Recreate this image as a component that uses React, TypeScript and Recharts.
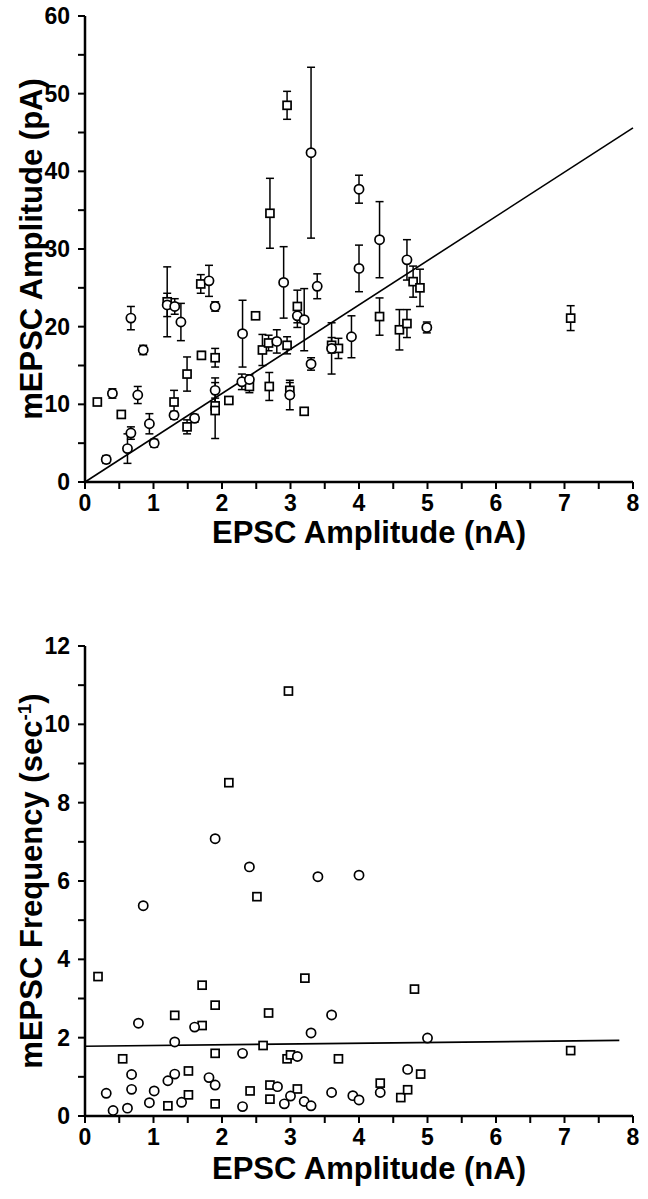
import { ScatterChart, Scatter, XAxis, YAxis, ErrorBar, ReferenceLine, Label } from "recharts";

// EPSC amplitude axis (nA), shared by both panels
const xTicks = [0, 0.5, 1, 1.5, 2, 2.5, 3, 3.5, 4, 4.5, 5, 5.5, 6, 6.5, 7, 7.5, 8];
const ampTicks = [0, 5, 10, 15, 20, 25, 30, 35, 40, 45, 50, 55, 60];
const freqTicks = [0, 1, 2, 3, 4, 5, 6, 7, 8, 9, 10, 11, 12];

// top panel: [EPSC nA, mEPSC pA, sem]
const ampCircles: [number, number, number][] = [
  [0.31, 2.9, 0.5], [0.4, 11.4, 0.6], [0.62, 4.3, 1.9], [0.67, 6.3, 0.8], [0.67, 21.1, 1.5],
  [0.77, 11.2, 1.1], [0.85, 17.0, 0.6], [0.94, 7.5, 1.3], [1.01, 5.0, 0.5], [1.2, 22.8, 1.5],
  [1.31, 22.6, 1.0], [1.4, 20.6, 2.4], [1.3, 8.6, 0.5], [1.6, 8.2, 0.5], [1.81, 25.9, 2.0],
  [1.9, 22.6, 0.6], [1.9, 11.8, 1.6], [2.3, 19.1, 4.3], [2.29, 12.9, 1.0], [2.4, 13.2, 0.6],
  [2.8, 18.1, 1.5], [2.9, 25.7, 4.6], [2.99, 11.2, 1.9], [3.1, 21.4, 1.5], [3.2, 20.9, 4.0],
  [3.3, 15.2, 0.8], [3.3, 42.4, 11.0], [3.39, 25.2, 1.6], [3.6, 17.2, 3.3], [3.89, 18.7, 2.7],
  [4.0, 27.5, 3.0], [4.0, 37.7, 1.8], [4.3, 31.2, 4.9], [4.7, 28.6, 2.6], [4.99, 19.9, 0.7],
];
const ampSquares: [number, number, number][] = [
  [0.18, 10.3, 0], [0.53, 8.7, 0], [1.2, 23.2, 4.5], [1.3, 10.3, 1.5], [1.49, 13.9, 2.2],
  [1.49, 7.1, 0.9], [1.69, 25.5, 1.2], [1.7, 16.3, 0.5], [1.9, 16.0, 1.2], [1.9, 9.8, 1.0],
  [1.9, 9.2, 3.6], [2.1, 10.5, 0.4], [2.4, 12.3, 0.8], [2.49, 21.4, 0], [2.59, 17.0, 2.0],
  [2.68, 17.9, 1.0], [2.69, 12.3, 1.8], [2.7, 34.6, 4.5], [2.95, 17.6, 1.1], [2.95, 48.5, 1.8],
  [2.99, 11.8, 1.0], [3.1, 22.6, 2.1], [3.2, 9.1, 0], [3.6, 17.6, 1.0], [3.7, 17.2, 1.3],
  [4.3, 21.3, 2.4], [4.59, 19.6, 2.6], [4.7, 20.4, 1.8], [4.79, 25.8, 2.0], [4.89, 25.0, 2.4],
  [7.09, 21.1, 1.6],
];
const ampFit = [{ x: 0, y: 0 }, { x: 8, y: 45.6 }];

// bottom panel: [EPSC nA, mEPSC frequency /s]
const freqCircles: [number, number][] = [
  [0.31, 0.58], [0.41, 0.14], [0.62, 0.2], [0.68, 1.06], [0.68, 0.68], [0.78, 2.37], [0.85, 5.37],
  [0.94, 0.34], [1.01, 0.64], [1.21, 0.9], [1.31, 1.07], [1.31, 1.89], [1.41, 0.35], [1.6, 2.27],
  [1.81, 0.98], [1.9, 0.79], [1.9, 7.08], [2.3, 1.6], [2.3, 0.24], [2.4, 6.36], [2.81, 0.75],
  [2.91, 0.31], [3.0, 0.51], [3.1, 1.52], [3.2, 0.37], [3.3, 0.26], [3.3, 2.12], [3.4, 6.11],
  [3.6, 0.6], [3.6, 2.58], [3.91, 0.52], [4.0, 0.41], [4.0, 6.15], [4.31, 0.6], [4.71, 1.19],
  [5.0, 1.99],
];
const freqSquares: [number, number][] = [
  [0.19, 3.56], [0.55, 1.46], [1.21, 0.26], [1.31, 2.57], [1.51, 1.15], [1.51, 0.54], [1.71, 3.34],
  [1.71, 2.31], [1.9, 2.83], [1.9, 1.6], [1.9, 0.31], [2.1, 8.51], [2.41, 0.64], [2.51, 5.6],
  [2.6, 1.8], [2.68, 2.63], [2.7, 0.79], [2.7, 0.43], [2.95, 1.46], [2.97, 10.85], [3.0, 1.56],
  [3.1, 0.69], [3.21, 3.52], [3.7, 1.46], [4.31, 0.84], [4.61, 0.47], [4.71, 0.67], [4.81, 3.24],
  [4.9, 1.07], [7.09, 1.67],
];
const freqFit = [{ x: 0, y: 1.78 }, { x: 7.8, y: 1.93 }];

const FONT = '"Liberation Sans", Arial, sans-serif';
const tickStyle = { fontSize: 23, fontWeight: 700, fill: "#000", fontFamily: FONT };
const axisLine = { stroke: "#000", strokeWidth: 2.5 };
const tickLine = { stroke: "#000", strokeWidth: 2 };

const Circle = (p: any) => (
  <circle cx={p.cx} cy={p.cy} r={4.6} fill="#fff" stroke="#000" strokeWidth={1.7} />
);
const Square = (p: any) => (
  <rect x={p.cx - 4} y={p.cy - 4} width={8} height={8} fill="#fff" stroke="#000" strokeWidth={1.7} />
);

const withErr = (rows: [number, number, number][]) => rows.map(([x, y, err]) => ({ x, y, err }));
const plain = (rows: [number, number][]) => rows.map(([x, y]) => ({ x, y }));

const xTitle = (dy: number) => (props: any) => {
  const vb = props.viewBox;
  return (
    <text x={vb.x + vb.width / 2 + 10} y={vb.y + dy} textAnchor="middle" fontSize={31} fontWeight={700} fontFamily={FONT}>
      EPSC Amplitude (nA)
    </text>
  );
};

const yTitle = (sup: boolean) => (props: any) => {
  const vb = props.viewBox;
  const cy = vb.y + vb.height / 2;
  return (
    <text transform={`translate(42, ${cy}) rotate(-90)`} textAnchor="middle" fontSize={31} fontWeight={700} fontFamily={FONT}>
      {sup ? (
        <>
          mEPSC Frequency (sec
          <tspan dy={-11} fontSize={19}>-1</tspan>
          <tspan dy={11}>)</tspan>
        </>
      ) : (
        "mEPSC Amplitude (pA)"
      )}
    </text>
  );
};

const fmtX = (v: number) => (Number.isInteger(v) ? String(v) : "");

export default function App() {
  return (
    <div style={{ position: "absolute", left: 0, top: 0, width: 648, height: 1199, background: "#fff" }}>
      <ScatterChart width={648} height={560} margin={{ top: 16, right: 15, bottom: 0, left: 0 }}>
        <XAxis type="number" dataKey="x" domain={[0, 8]} ticks={xTicks} interval={0} tickFormatter={fmtX}
          height={78} tick={tickStyle} axisLine={axisLine} tickLine={tickLine} tickSize={7} tickMargin={6}>
          <Label content={xTitle(61)} />
        </XAxis>
        <YAxis type="number" dataKey="y" domain={[0, 60]} ticks={ampTicks} interval={0}
          tickFormatter={(v: number) => (v % 10 === 0 ? String(v) : "")}
          width={85} tick={tickStyle} axisLine={axisLine} tickLine={tickLine} tickSize={7} tickMargin={8}>
          <Label content={yTitle(false)} />
        </YAxis>
        <ReferenceLine segment={ampFit} stroke="#000" strokeWidth={1.6} ifOverflow="visible" />
        <Scatter data={withErr(ampSquares)} shape={Square} isAnimationActive={false}>
          <ErrorBar dataKey="err" direction="y" width={4} stroke="#000" strokeWidth={1.5} />
        </Scatter>
        <Scatter data={withErr(ampCircles)} shape={Circle} isAnimationActive={false}>
          <ErrorBar dataKey="err" direction="y" width={4} stroke="#000" strokeWidth={1.5} />
        </Scatter>
      </ScatterChart>
      <ScatterChart width={648} height={639} margin={{ top: 86, right: 15, bottom: 0, left: 0 }}>
        <XAxis type="number" dataKey="x" domain={[0, 8]} ticks={xTicks} interval={0} tickFormatter={fmtX}
          height={83} tick={tickStyle} axisLine={axisLine} tickLine={tickLine} tickSize={7} tickMargin={6}>
          <Label content={xTitle(63)} />
        </XAxis>
        <YAxis type="number" dataKey="y" domain={[0, 12]} ticks={freqTicks} interval={0}
          tickFormatter={(v: number) => (v % 2 === 0 ? String(v) : "")}
          width={85} tick={tickStyle} axisLine={axisLine} tickLine={tickLine} tickSize={7} tickMargin={8}>
          <Label content={yTitle(true)} />
        </YAxis>
        <ReferenceLine segment={freqFit} stroke="#000" strokeWidth={1.6} ifOverflow="visible" />
        <Scatter data={plain(freqSquares)} shape={Square} isAnimationActive={false} />
        <Scatter data={plain(freqCircles)} shape={Circle} isAnimationActive={false} />
      </ScatterChart>
    </div>
  );
}
